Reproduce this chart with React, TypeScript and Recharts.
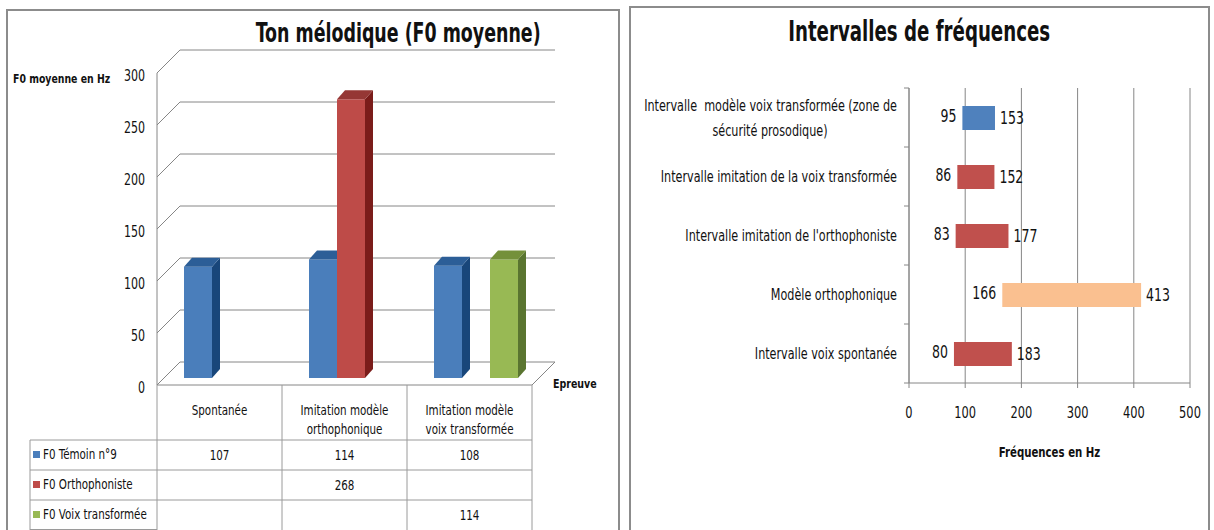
import React from 'react';
import { BarChart, Bar, XAxis, YAxis, CartesianGrid, Cell, LabelList } from 'recharts';

const FONT = "'DejaVu Sans Condensed', 'DejaVu Sans', sans-serif";
const SX = 0.82;

// ---------- Left chart data ----------
const epreuves = ['Spontanée', 'Imitation modèle orthophonique', 'Imitation modèle voix transformée'];
const epreuveLines = [['Spontanée'], ['Imitation modèle', 'orthophonique'], ['Imitation modèle', 'voix transformée']];
const seriesNames = ['F0 Témoin n°9', 'F0 Orthophoniste', 'F0 Voix transformée'];
const temoin: (number | null)[] = [107, 114, 108];
const orthophoniste: (number | null)[] = [null, 268, null];
const voixTransformee: (number | null)[] = [null, null, 114];
const f0Ticks = [0, 50, 100, 150, 200, 250, 300];

// ---------- Right chart data ----------
const intervalLabels = [
  'Intervalle  modèle voix transformée (zone de sécurité prosodique)',
  'Intervalle imitation de la voix transformée',
  "Intervalle imitation de l'orthophoniste",
  'Modèle orthophonique',
  'Intervalle voix spontanée',
];
const intervalLabelLines = [
  ['Intervalle  modèle voix transformée (zone de', 'sécurité prosodique)'],
  ['Intervalle imitation de la voix transformée'],
  ["Intervalle imitation de l'orthophoniste"],
  ['Modèle orthophonique'],
  ['Intervalle voix spontanée'],
];
const intervalLow = [95, 86, 83, 166, 80];
const intervalHigh = [153, 152, 177, 413, 183];
const intervalColors = ['#4f81bd', '#c0504d', '#c0504d', '#fac090', '#c0504d'];
const freqTicks = [0, 100, 200, 300, 400, 500];

// ---------- colours ----------
const seriesFront = ['#4a7ebb', '#be4b48', '#98b954'];
const seriesSide = ['#18467a', '#7a1c1a', '#5a7530'];
const seriesTop = ['#2c5e97', '#953735', '#74903a'];
const GRID = '#868686';
const TABLE = '#9a9a9a';

const NText = ({ x, y, anchor = 'start', size = 15, bold = false, sx = SX, children }: any) => (
  <g transform={`translate(${x},${y}) scale(${sx},1)`}>
    <text
      x={0}
      y={0}
      textAnchor={anchor}
      dominantBaseline="central"
      fontFamily={FONT}
      fontSize={size}
      fontWeight={bold ? 'bold' : 'normal'}
      fill="#111"
      style={{ whiteSpace: 'pre' }}
    >
      {children}
    </text>
  </g>
);

// ---------- left geometry ----------
const L_W = 620;
const L_H = 530;
const L_TOP = 73;
const L_YW = 157;
const L_RIGHT = 88;
const L_XH = 145;
const L_BOTTOM = L_H - L_XH; // 385
const L_BAND = (L_W - L_YW - L_RIGHT) / epreuves.length;
const DEPTH = 23;
const SHIFT = 7;
const BD = 8;

const leftData = epreuves.map((e, i) => ({
  name: e,
  temoin: temoin[i],
  ortho: orthophoniste[i],
  voix: voixTransformee[i],
}));

const make3DBar = (k: number) => (props: any) => {
  const { x, y, width, height, value } = props;
  if (value == null || !height || height <= 0) return <g />;
  const fx = x + SHIFT;
  const fy = y - SHIFT;
  return (
    <g>
      <rect x={fx} y={fy} width={width} height={height} fill={seriesFront[k]} />
      <polygon
        points={`${fx + width},${fy} ${fx + width + BD},${fy - BD - 1} ${fx + width + BD},${fy + height - BD - 1} ${fx + width},${fy + height}`}
        fill={seriesSide[k]}
      />
      <polygon
        points={`${fx},${fy} ${fx + BD},${fy - BD - 1} ${fx + width + BD},${fy - BD - 1} ${fx + width},${fy}`}
        fill={seriesTop[k]}
      />
    </g>
  );
};

const gridLine = (props: any) => {
  const { x1, x2, y1 } = props;
  const isFloor = Math.abs(y1 - L_BOTTOM) < 1;
  let d = `M${x1},${y1} L${x1 + DEPTH},${y1 - DEPTH} L${x2 + DEPTH},${y1 - DEPTH}`;
  if (isFloor) d += ` M${x1},${y1} L${x2},${y1} L${x2 + DEPTH},${y1 - DEPTH}`;
  return <path key={`gl-${y1}`} d={d} fill="none" stroke={GRID} strokeWidth={1} />;
};

const rowsData = [temoin, orthophoniste, voixTransformee];
const HEADER_H = 55;
const ROW_H = 30;

const TableTick = (props: any) => {
  const { x, payload } = props;
  const i = payload.index;
  const x0 = x - L_BAND / 2;
  const x1 = x + L_BAND / 2;
  const top = L_BOTTOM;
  const bottom = top + HEADER_H + ROW_H * 3;
  const lines = epreuveLines[i];
  return (
    <g>
      <line x1={x1} y1={top} x2={x1} y2={bottom} stroke={TABLE} />
      {i === 0 && <line x1={x0} y1={top} x2={x0} y2={bottom} stroke={TABLE} />}
      {lines.map((t, j) => (
        <NText key={j} x={x} y={top + 25 + j * 19} anchor="middle" size={14}>
          {t}
        </NText>
      ))}
      {rowsData.map((r, k) => (
        <g key={k}>
          <line x1={i === 0 ? 30 : x0} y1={top + HEADER_H + k * ROW_H} x2={x1} y2={top + HEADER_H + k * ROW_H} stroke={TABLE} />
          {r[i] != null && (
            <NText x={x} y={top + HEADER_H + k * ROW_H + 15} anchor="middle" size={14}>
              {r[i]}
            </NText>
          )}
        </g>
      ))}
      {i === 0 && (
        <g>
          <line x1={30} y1={top + HEADER_H} x2={30} y2={bottom} stroke={TABLE} />
          <line x1={30} y1={bottom - 0.5} x2={x0} y2={bottom - 0.5} stroke={TABLE} />
          {seriesNames.map((n, k) => (
            <g key={n}>
              <rect x={33} y={top + HEADER_H + k * ROW_H + 11} width={7} height={7} fill={seriesFront[k]} />
              <NText x={43} y={top + HEADER_H + k * ROW_H + 14} size={14}>
                {n}
              </NText>
            </g>
          ))}
        </g>
      )}
    </g>
  );
};

const LeftYTick = (props: any) => {
  const { y, payload } = props;
  return (
    <NText x={145} y={y + 3} anchor="end" size={15}>
      {payload.value}
    </NText>
  );
};

// ---------- right geometry ----------
const R_X = 629;
const R_W = 585;
const R_H = 530;
const R_TOP = 88;
const R_YW = 280;
const R_RIGHT = 24;
const R_XH = 147;
const R_BOTTOM = R_H - R_XH;
const R_BAND = (R_H - R_TOP - R_XH) / intervalLabels.length;

const rightData = intervalLabels.map((n, i) => ({ name: n, range: [intervalLow[i], intervalHigh[i]] }));

const RightYTick = (props: any) => {
  const { y, payload } = props;
  const i = payload.index;
  const lines = intervalLabelLines[i];
  const ax = R_YW;
  return (
    <g>
      <line x1={ax - 5} y1={y + R_BAND / 2} x2={ax} y2={y + R_BAND / 2} stroke={GRID} />
      {i === 0 && <line x1={ax - 5} y1={y - R_BAND / 2} x2={ax} y2={y - R_BAND / 2} stroke={GRID} />}
      {lines.length === 1 ? (
        <NText x={ax - 12} y={y} anchor="end" size={15.2}>
          {lines[0]}
        </NText>
      ) : (
        <g>
          <NText x={ax - 12} y={y - 12} anchor="end" size={15.2}>
            {lines[0]}
          </NText>
          <NText x={ax - 139} y={y + 13} anchor="middle" size={15.2}>
            {lines[1]}
          </NText>
        </g>
      )}
    </g>
  );
};

const RightXTick = (props: any) => {
  const { x, payload } = props;
  return (
    <NText x={x} y={R_BOTTOM + 30} anchor="middle" size={15.5}>
      {payload.value}
    </NText>
  );
};

const LowLabel = (props: any) => {
  const { x, y, height, index } = props;
  return (
    <NText x={x - 6} y={y + height / 2 - 1} anchor="end" size={17}>
      {intervalLow[index]}
    </NText>
  );
};
const HighLabel = (props: any) => {
  const { x, y, width, height, index } = props;
  return (
    <NText x={x + width + 5} y={y + height / 2 + 1} anchor="start" size={17}>
      {intervalHigh[index]}
    </NText>
  );
};

const htmlText = (sx: number, origin: string): React.CSSProperties => ({
  display: 'inline-block',
  transform: `scaleX(${sx})`,
  transformOrigin: origin,
  whiteSpace: 'nowrap',
});

export default function App() {
  return (
    <div style={{ position: 'absolute', left: 0, top: 0, width: 1214, height: 530, overflow: 'hidden', background: '#fff', fontFamily: FONT, color: '#111' }}>
      {/* panel frames */}
      <div style={{ position: 'absolute', left: 6, top: 9, width: 614, height: 600, border: '2px solid #8c8c8c', borderBottom: 'none', boxSizing: 'border-box' }} />
      <div style={{ position: 'absolute', left: 629, top: 6, width: 581, height: 600, border: '2px solid #8c8c8c', borderBottom: 'none', boxSizing: 'border-box' }} />

      {/* left chart */}
      <div style={{ position: 'absolute', left: 0, top: 0 }}>
        <BarChart
          width={L_W}
          height={L_H}
          data={leftData}
          margin={{ top: L_TOP, right: L_RIGHT, bottom: 0, left: 0 }}
          barCategoryGap="16%"
          barGap={0}
        >
          <CartesianGrid vertical={false} horizontal={gridLine} />
          <XAxis dataKey="name" height={L_XH} axisLine={false} tickLine={false} tick={<TableTick />} interval={0} />
          <YAxis
            width={L_YW}
            domain={[0, 300]}
            ticks={f0Ticks}
            axisLine={{ stroke: GRID }}
            tickLine={false}
            tick={<LeftYTick />}
            interval={0}
          />
          <Bar dataKey="temoin" isAnimationActive={false} shape={make3DBar(0)} />
          <Bar dataKey="ortho" isAnimationActive={false} shape={make3DBar(1)} />
          <Bar dataKey="voix" isAnimationActive={false} shape={make3DBar(2)} />
        </BarChart>
      </div>
      <div style={{ position: 'absolute', left: 198, top: 17, width: 400, textAlign: 'center', fontSize: 26, lineHeight: '32px', fontWeight: 'bold' }}>
        <span style={htmlText(0.745, 'center')}>Ton mélodique (F0 moyenne)</span>
      </div>
      <div style={{ position: 'absolute', left: 13, top: 70, fontSize: 13, lineHeight: '18px', fontWeight: 'bold' }}>
        <span style={htmlText(0.8, 'left')}>F0 moyenne en Hz</span>
      </div>
      <div style={{ position: 'absolute', left: 553, top: 375, fontSize: 13, lineHeight: '18px', fontWeight: 'bold' }}>
        <span style={htmlText(0.81, 'left')}>Epreuve</span>
      </div>

      {/* right chart */}
      <div style={{ position: 'absolute', left: R_X, top: 0 }}>
        <BarChart
          width={R_W}
          height={R_H}
          data={rightData}
          layout="vertical"
          margin={{ top: R_TOP, right: R_RIGHT, bottom: 0, left: 0 }}
        >
          <CartesianGrid horizontal={false} stroke={GRID} />
          <XAxis
            type="number"
            domain={[0, 500]}
            ticks={freqTicks}
            height={R_XH}
            axisLine={{ stroke: GRID }}
            tickLine={{ stroke: GRID }}
            tickSize={5}
            tick={<RightXTick />}
            interval={0}
            label={{
              content: (p: any) => {
                const vb = p.viewBox || {};
                return (
                  <NText x={vb.x + vb.width / 2} y={vb.y + 69} anchor="middle" size={14} bold sx={0.81}>
                    Fréquences en Hz
                  </NText>
                );
              },
            }}
          />
          <YAxis
            type="category"
            dataKey="name"
            width={R_YW}
            axisLine={{ stroke: GRID }}
            tickLine={false}
            tick={<RightYTick />}
            interval={0}
          />
          <Bar dataKey="range" barSize={24} isAnimationActive={false}>
            {rightData.map((d, i) => (
              <Cell key={i} fill={intervalColors[i]} />
            ))}
            <LabelList dataKey="range" content={<LowLabel />} />
            <LabelList dataKey="range" content={<HighLabel />} />
          </Bar>
        </BarChart>
      </div>
      <div style={{ position: 'absolute', left: 629, top: 13, width: 581, textAlign: 'center', fontSize: 27.5, lineHeight: '36px', fontWeight: 'bold' }}>
        <span style={htmlText(0.735, 'center')}>Intervalles de fréquences</span>
      </div>
    </div>
  );
}
